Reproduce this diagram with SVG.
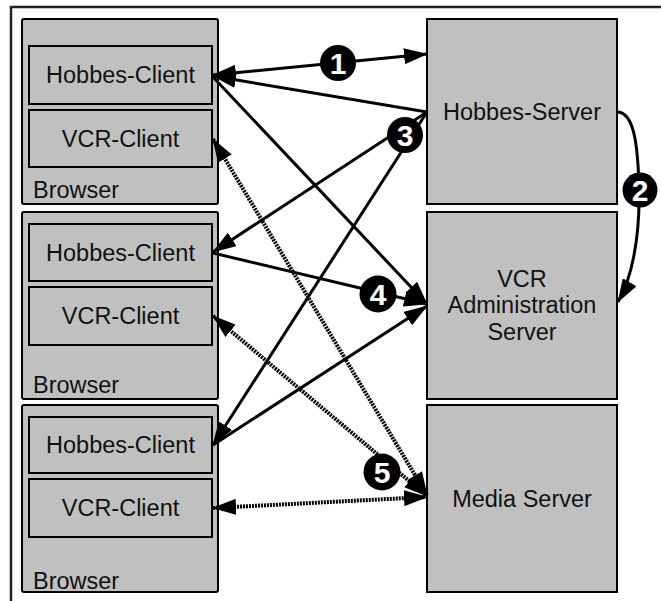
<svg xmlns="http://www.w3.org/2000/svg" width="661" height="601" viewBox="0 0 661 601">
<style>
.box{fill:#c0c0c0;stroke:#000;stroke-width:2}
.t{font-family:"Liberation Sans",Arial,sans-serif;font-size:23.5px;fill:#111}
.c{text-anchor:middle}
.ln{fill:none;stroke:#000;stroke-width:3}
.dt{fill:none;stroke:#000;stroke-width:4;stroke-dasharray:2 1}
.num{fill:#000}
.nt{font-family:"Liberation Sans",Arial,sans-serif;font-size:30px;font-weight:bold;fill:#fff;text-anchor:middle}
</style>
<defs>
<marker id="ah" viewBox="0 0 24 16" refX="23" refY="8" markerWidth="24" markerHeight="16" markerUnits="userSpaceOnUse" orient="auto-start-reverse">
<path d="M0,0 L24,8 L0,16 z" fill="#000"/>
</marker>
</defs>
<rect width="661" height="601" fill="#fff"/>
<g id="frame">
<path d="M11,602 L11,7 L661,7" fill="none" stroke="#222" stroke-width="2.5"/>
</g>
<g id="browser1">
<rect class="box" x="22" y="19" width="196" height="185" rx="2"/>
<text class="t" x="33" y="198">Browser</text>
</g>
<g id="hobbes-client1">
<rect class="box" x="29" y="46" width="183" height="58"/>
<text class="t c" x="120.5" y="83">Hobbes-Client</text>
</g>
<g id="vcr-client1">
<rect class="box" x="29" y="110" width="183" height="57"/>
<text class="t c" x="120.5" y="147">VCR-Client</text>
</g>
<g id="browser2">
<rect class="box" x="22" y="212" width="196" height="187" rx="2"/>
<text class="t" x="33" y="393">Browser</text>
</g>
<g id="hobbes-client2">
<rect class="box" x="29" y="224" width="183" height="57"/>
<text class="t c" x="120.5" y="260.5">Hobbes-Client</text>
</g>
<g id="vcr-client2">
<rect class="box" x="29" y="287" width="183" height="58"/>
<text class="t c" x="120.5" y="324">VCR-Client</text>
</g>
<g id="browser3">
<rect class="box" x="22" y="405" width="196" height="187" rx="2"/>
<text class="t" x="33" y="589">Browser</text>
</g>
<g id="hobbes-client3">
<rect class="box" x="29" y="417" width="183" height="56"/>
<text class="t c" x="120.5" y="453">Hobbes-Client</text>
</g>
<g id="vcr-client3">
<rect class="box" x="29" y="479" width="183" height="58"/>
<text class="t c" x="120.5" y="516">VCR-Client</text>
</g>
<g id="hobbes-server">
<rect class="box" x="427" y="19" width="190" height="185"/>
<text class="t c" x="522" y="119.5">Hobbes-Server</text>
</g>
<g id="vcr-admin-server">
<rect class="box" x="427" y="212" width="190" height="187"/>
<text class="t c" x="522" y="287">VCR</text>
<text class="t c" x="522" y="313">Administration</text>
<text class="t c" x="522" y="340">Server</text>
</g>
<g id="media-server">
<rect class="box" x="427" y="405" width="190" height="187"/>
<text class="t c" x="522" y="507">Media Server</text>
</g>
<g id="connectors">
<line class="ln" x1="213" y1="75" x2="427" y2="54" marker-start="url(#ah)" marker-end="url(#ah)"/>
<line class="ln" x1="427" y1="112" x2="213" y2="76" marker-end="url(#ah)"/>
<line class="ln" x1="213" y1="77" x2="427" y2="304" marker-end="url(#ah)"/>
<line class="ln" x1="427" y1="112" x2="213" y2="252" marker-end="url(#ah)"/>
<line class="ln" x1="427" y1="112" x2="213" y2="445" marker-end="url(#ah)"/>
<line class="ln" x1="213" y1="253" x2="427" y2="304" marker-end="url(#ah)"/>
<line class="ln" x1="213" y1="445" x2="427" y2="306" marker-end="url(#ah)"/>
<path class="ln" d="M617,112 C633,112 638,140 639,190 C640,240 631,280 618,302" marker-end="url(#ah)"/>
<line class="dt" x1="213" y1="139" x2="427" y2="495" marker-start="url(#ah)" marker-end="url(#ah)"/>
<line class="dt" x1="213" y1="316" x2="427" y2="496" marker-start="url(#ah)" marker-end="url(#ah)"/>
<line class="dt" x1="213" y1="508" x2="427" y2="497" marker-start="url(#ah)" marker-end="url(#ah)"/>
</g>
<g id="step1"><circle class="num" cx="338" cy="63" r="18"/><text class="nt" x="338" y="74">1</text></g>
<g id="step2"><circle class="num" cx="640" cy="190" r="17.5"/><text class="nt" x="640" y="201">2</text></g>
<g id="step3"><circle class="num" cx="405" cy="135" r="18"/><text class="nt" x="405" y="146">3</text></g>
<g id="step4"><circle class="num" cx="378" cy="294" r="18.5"/><text class="nt" x="378" y="305">4</text></g>
<g id="step5"><circle class="num" cx="382" cy="472" r="18.5"/><text class="nt" x="382" y="483">5</text></g>
</svg>
